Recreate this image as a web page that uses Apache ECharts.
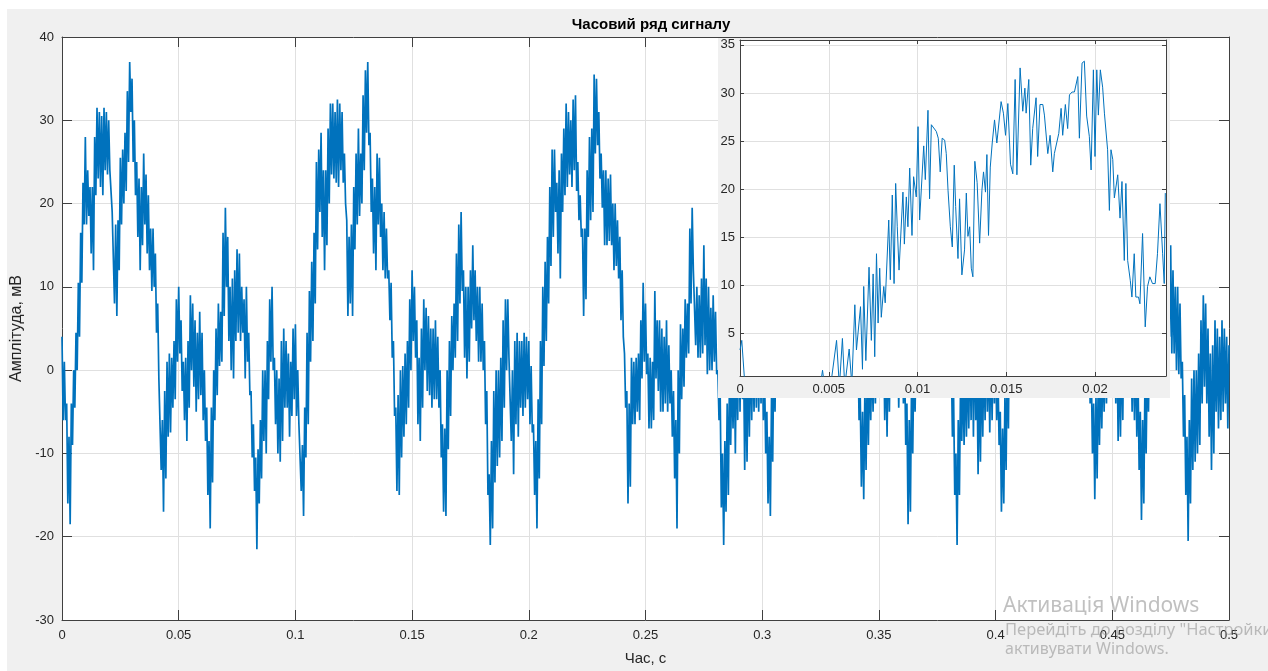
<!DOCTYPE html>
<html>
<head>
<meta charset="utf-8">
<title>Часовий ряд сигналу</title>
<script src="https://cdn.jsdelivr.net/npm/echarts@6/dist/echarts.min.js"></script>
<style>
  html, body { margin: 0; padding: 0; background: #fff; }
  #chart { width: 1268px; height: 671px; }
</style>
</head>
<body>
<div id="chart"></div>
<script>
// * Часовий ряд сигналу + збільшений фрагмент

// ? крок відліків основного графіка, с
const dt = 0.0005
// ? амплітуда, мВ (по два відліки на кожну мілісекунду)
const amp = [
  4,-6, 1,-6, -4,-16, -8,-18.5, -4,-9, 0,-4.5, 4.5,0, 10.5,4, 16.5,10.5, 22.5,17.5,
  28,17.5, 24,18.5, 22,14, 22,12, 28,21, 31.5,23, 31,22, 30.5,21, 31.5,24, 31,23.5,
  30,24, 24,19, 19,8, 17.5,6.5, 18,12, 25.5,17.5, 26.5,20, 28.5,21.5, 33.5,25, 37,31,
  35,25, 30,21, 25,16, 23,12, 22,15, 26,17.5, 23.5,14, 21,12, 17,9.5, 17,10,
  14,4.5, 8,-1, -1,-12, -6,-17, -2.5,-13, 1,-8, 2,-7.5, 1.5,-4.5, 3.5,-3.5, 8.5,1,
  10,2, 6,-2.5, 1,-6, 1.5,-8.5, 3.5,-4.5, 9,0, 8,-2, 6,-5, 4.5,-3.5, 7,-3,
  4.5,-6, 0,-8.5, -4.5,-15, -8.5,-19, -4.5,-13.5, 0,-6, 5,-3, 8,0.5, 7,1, 16.5,6.5,
  19.5,10, 16,3.5, 10,0, 11,-1, 12,3.5, 14.5,4.5, 14,3.5, 10,4.5, 8.5,-1, 10,1,
  4.5,-3, -2.5,-10.5, -6.5,-14.5, -10.5,-21.5, -9.5,-16, -6,-13, 0,-8.5, 0,-10, 3.5,-3.5, 8.5,1,
  10,0, 1.5,-6.5, 0,-10, -1,-11, 3.5,-8.5, 5,-4.5, 3.5,-4.5, 2,-8, 1,-5.5, 5,-3.5,
  5.5,-5.5, 0,-6.5, -6.5,-14.5, -9,-17.5, -4.5,-10.5, 4.5,-6.5, 9.5,1, 13,3.5, 16.5,8, 25,14.5,
  26.5,19, 28.5,16, 24,12, 24,15, 29,20, 32,23.5, 32,23, 31,22.5, 32.5,22, 32,24,
  31,22.5, 26,20, 18,6.5, 16,8, 17.5,6.5, 22,14.5, 26,17.5, 29,18.5, 26,20, 33,24,
  36,28.5, 37,27, 28.5,19, 23,14, 22,12, 26,17.5, 25.5,16, 20,12, 19,11, 17,11,
  12,6, 10.5,1.5, 3.5,-5.5, -4.5,-14.5, -3,-15, 0,-10.5, 0.5,-8, 2,-6.5, 3.5,-4.5, 8.5,0,
  12,3.5, 10,1.5, 6,-6.5, 1.5,-8.5, 5,-4.5, 8.5,0, 7.5,-2.5, 6.5,-3, 5,-4.5, 5,-3.5,
  6,-3.5, 4,-4.5, 0,-10.5, -6.5,-17, -7,-17.5, 0,-9.5, 3.5,-5.5, 6.5,0, 8,1.5, 14,3.5,
  17.5,8, 19,9.5, 12,1.5, 10,-1, 10,1, 12,5, 15,6, 12,3.5, 10,1, 10,1,
  8,0, 3.5,-6.5, -2.5,-15, -12.5,-21, -8.5,-19, -2.5,-13.5, 0,-11.5, 0,-10.5, 1.5,-8.5, 6,-4.5,
  8.5,0, 8.5,1.5, 1.5,-8.5, 0,-12.5, 3.5,-6.5, 4.5,-8, 3.5,-4.5, 3.5,-5.5, 4.5,-4.5, 4,-3.5,
  3.5,-6.5, 0.5,-7.5, -6.5,-15, -8.5,-19, -3.5,-13, 3.5,-6.5, 10,0.5, 13,3.5, 16,8, 22,12.5,
  26.5,16, 26.5,19, 22.5,14, 24,11, 26,19, 29,21, 32,22, 31,23.5, 30,22, 32.5,24,
  33,21.5, 25,18, 21,16, 17,6.5, 17,8.5, 24,16, 28,18, 29,19, 35.5,26, 35,27,
  31,23, 26,19.5, 24,15, 24,15, 23,15.5, 23.5,15, 20,12, 20,12.5, 18,11, 16,6,
  12,4, 2,-4.5, -2.5,-16, -4,-14, 1.5,-6.5, 1,-6.5, 1.5,-5, 2,-6, 6,-1, 10.5,1,
  8,-0.5, 2,-7, 1.5,-7, 1,-6, 9.5,-1, 6,-2.5, 6,-5, 5,-5, 4,-4, 6,-5,
  3,-4, 0,-8, -2.5,-13, -6,-19, 0,-10, 5.5,-3.5, 5,-2, 8.5,1.5, 8,2, 17,8,
  19.5,12, 12,3, 10,1.5, 9,1.5, 11,2, 15,3, 11,-0.5, 10,0, 7.5,0, 9,1,
  7,-0.5, 0,-6, -3,-16.5, -10,-21, -8.5,-17, -4,-15, 0,-9, 1,-7, 2,-10, 4,-6,
  7,-5, 8,-3.5, 2,-12, 0,-11, 3,-8, 4,-6, 3,-5, 4,-4.5, 4,-5, 3,-4,
  4,-6, 0,-10, -5,-16, -8,-17.5, -3,-11, 3,-5, 9,1, 13,3, 17,7, 23,13,
  27,18, 27,17, 24,13, 23,14, 28,19, 31,22, 32,23, 30,22, 32,23, 31,24,
  30,22, 26,19, 18,8, 16,7, 17,8, 22,14, 26,17, 28,19, 27,20, 33,24,
  35,27, 34,25, 28,19, 23,14, 22,13, 25,17, 24,15, 20,12, 19,11, 16,9,
  11,0, 4,-6, -3,-14, -5,-15.5, -2,-12, 0,-9, 1,-6, 2,-5, 3,-4, 7,0,
  11,3, 10,1, 5,-6, 2,-8, 4,-5, 8,-1, 7,-2.5, 6,-3, 5,-4.5, 5,-3,
  5,-4, 2,-9, -4,-18.5, -6,-17, -1,-10, 2,-5, 4,-2, 7,0, 8,1.5, 14,4,
  17,8, 18,9, 12,2, 10,0, 10,1, 12,5, 14,6, 12,4, 10,1, 9,0,
  6,-2.5, 2,-8, -3,-15, -10,-21, -6,-15, -1,-8.5, 0,-9, 1,-8, 2,-7, 4,-6,
  6,-8, 5,-6, 1,-12.5, 0,-11, 2,-8, 3,-6, 4,-5, 3,-7.5, 3,-6, 4,-4,
  3,-6, 0,-9, -5,-17, -7,-16, -3,-12, 2,-7, 9,0, 13,3, 17,8, 24,14,
  27,18, 28,16, 24,13, 24,15, 28,20, 31,22, 32,23, 31,22, 32,22, 31,24,
  30,22, 25,19, 18,7, 16,8, 17,7, 22,14, 26,17, 28,18, 26,20, 32,24,
  35,27, 35,26, 28,19, 23,14, 22,12, 25,17, 25,16, 20,10, 18,8, 12,0,
  6,-4, 0,-10, -4,-15.5, -3,-13, 0,-9, 1,-7, 2,-5, 3,-4, 4,-3, 8,0,
  11,2, 9,-4, 4,-8.5, 2,-8, 4,-6, 8,-1, 7,-2, 6,-3, 4,-5, 4,-6,
  3,-8, 0,-12, -5,-18, -6,-16, -1,-10, 2,-5, 5,-2, 7,0, 8,1, 12,3,
  15,6, 16,7, 13,3, 12,2, 14,4, 15,2, 12,2, 10,0, 10,-0.5, 8,-1,
  1,-8, -3,-15, -8,-20.5, -6,-16, -1,-12, 0,-11, 0,-10, 2,-9, 6,-4, 9,-2,
  8,-4, 5,-8, 2,-12, 3,-10, 6,-5, 5,-7, 4,-6, 6,-5, 5,-4, 4,-7,
  3
]

// ? вставка: час, мс
const insetMs = [
  0, 0.1, 0.2, 0.3, 0.6, 1.0, 1.5, 2.0, 2.5, 3.0, 3.5, 4.0, 4.4, 4.65, 4.8, 5.1,
  5.44, 5.6, 5.77, 5.9, 6.15, 6.3, 6.47, 6.56, 6.79, 6.9, 6.97, 7.09, 7.27, 7.4,
  7.5, 7.59, 7.69, 7.78, 7.87, 7.96, 8.1, 8.18, 8.38, 8.47, 8.58, 8.68, 8.77, 8.86,
  8.96, 9.07, 9.18, 9.26, 9.37, 9.46, 9.56, 9.69, 9.78, 9.93, 10.03, 10.12, 10.2,
  10.35, 10.44, 10.59, 10.68, 10.78, 10.87, 11.06, 11.17, 11.28, 11.39, 11.53, 11.62,
  11.72, 11.85, 11.96, 12.07, 12.15, 12.28, 12.37, 12.5, 12.65, 12.75, 12.84, 12.94,
  13.03, 13.12, 13.23, 13.36, 13.5, 13.63, 13.72, 13.83, 13.91, 14.0, 14.1, 14.21,
  14.34, 14.47, 14.58, 14.71, 14.84, 14.96, 15.09, 15.24, 15.37, 15.5, 15.6, 15.78,
  15.93, 16.05, 16.12, 16.27, 16.38, 16.49, 16.68, 16.77, 16.9, 17.06, 17.15, 17.34,
  17.47, 17.62, 17.71, 17.8, 17.96, 18.09, 18.18, 18.33, 18.46, 18.56, 18.71, 18.84,
  19.03, 19.12, 19.27, 19.4, 19.53, 19.68, 19.78, 19.91, 20.0, 20.1, 20.19, 20.3,
  20.43, 20.53, 20.62, 20.71, 20.81, 20.9, 21.0, 21.09, 21.18, 21.28, 21.41, 21.52,
  21.65, 21.74, 21.84, 21.99, 22.08, 22.21, 22.3, 22.45, 22.53, 22.68, 22.83, 22.96,
  23.09, 23.24, 23.39, 23.52, 23.66, 23.81, 23.9, 23.96
]
// ? вставка: амплітуда, мВ
const insetAmp = [
  3.3, 4.3, 4.5, -1, -5, -9, -12, -15, -17, -14, -9, -6, -2, 1.2, -1, -0.5,
  4.3, -0.5, 4.5, -0.5, 3.4, -0.3, 8, 3.3, 7.8, 1.3, 9.9, 2.2, 11.9, 4.3,
  11.2, 2.6, 13.3, 6.1, 11.8, 6.7, 9.9, 8.2, 16.8, 10.6, 19.4, 10.2, 20.6, 16.1,
  11.6, 11.6, 19.7, 14.3, 19.2, 16.1, 22.2, 15.2, 21.3, 19.2, 26.5, 16.8, 16.8,
  24.5, 21.0, 28.2, 19.0, 26.7, 26.8, 26.0, 25.3, 21.8, 25.3, 25.1, 23.7,
  19.9, 16.1, 14.0, 22.5, 18.2, 12.8, 19.0, 11.1, 13.7, 19.6, 15.1, 16.1,
  11.8, 10.9, 22.9, 20.7, 14.4, 19.9, 21.8, 19.7, 23.6, 15.2, 22.3, 24.8,
  27.2, 24.8, 24.6, 29.1, 27.9, 25.6, 28.9, 22.6, 21.6, 31.4, 21.5, 32.6,
  28.1, 30.5, 27.9, 31.4, 22.5, 26.3, 29.5, 23.4, 28.8, 28.8, 27.7, 23.7,
  25.6, 21.8, 23.7, 23.7, 25.8, 28.4, 25.6, 28.8, 26.3, 29.8, 30.1, 30.1,
  31.7, 25.3, 33.1, 33.3, 27.6, 25.5, 22.0, 32.4, 23.4, 32.4, 27.7, 32.4,
  30.6, 27.9, 28.1, 24.1, 17.8, 24.1, 23.1, 19.1, 18.9, 21.5, 17.0, 20.8,
  12.6, 20.6, 12.6, 10.5, 8.8, 13.3, 8.8, 8.8, 8.1, 15.4, 5.7, 9.9,
  10.9, 10.2, 10.2, 13.3, 18.5, 13.3, 10.2, 19.6
]

const fontFamily = "'Liberation Sans', Arial, sans-serif"
const axisColor = '#404040'
const labelColor = '#262626'
const gridColor = '#e0e0e0'
const lineColor = '#0072bd'

const mainData = amp.map((v, i) => [i * dt, v])
const insetData = insetMs.map((t, i) => [t / 1000, insetAmp[i]])

// ? однакові налаштування осей (рамка як у MATLAB)
function axisBase (gridIndex, position, tickLen, z, withLabels) {
  return {
    type: 'value',
    gridIndex: gridIndex,
    position: position,
    z: z,
    axisLine: { show: true, onZero: false, lineStyle: { color: axisColor, width: 1 } },
    axisTick: { show: true, inside: true, length: tickLen, lineStyle: { color: axisColor } },
    axisLabel: { show: withLabels, color: labelColor, fontSize: 13, fontFamily: fontFamily },
    splitLine: { show: withLabels, lineStyle: { color: gridColor, width: 1 } }
  }
}

const chart = echarts.init(document.getElementById('chart'))

const option = {
  animation: false,
  backgroundColor: '#f0f0f0',
  title: {
    text: 'Часовий ряд сигналу',
    left: 646,
    top: 12,
    textAlign: 'center',
    textStyle: { fontFamily: fontFamily, fontSize: 15, fontWeight: 'bold', color: '#000' }
  },
  grid: [
    { left: 62, top: 37, right: 39, bottom: 49, show: true, backgroundColor: '#fff', borderWidth: 0 },
    { left: 740, top: 40, width: 426, height: 336, show: false }
  ],
  xAxis: [
    Object.assign(axisBase(0, 'bottom', 10, 0, true), {
      min: 0, max: 0.5, interval: 0.05,
      name: 'Час, с', nameLocation: 'middle', nameGap: 31,
      nameTextStyle: { fontFamily: fontFamily, fontSize: 15, color: labelColor }
    }),
    Object.assign(axisBase(0, 'top', 10, 0, false), { min: 0, max: 0.5, interval: 0.05 }),
    Object.assign(axisBase(1, 'bottom', 4, 52, true), { min: 0, max: 0.024, interval: 0.005 }),
    Object.assign(axisBase(1, 'top', 4, 52, false), { min: 0, max: 0.024, interval: 0.005 })
  ],
  yAxis: [
    Object.assign(axisBase(0, 'left', 10, 0, true), {
      min: -30, max: 40, interval: 10,
      name: 'Амплітуда, мВ', nameLocation: 'middle', nameGap: 34,
      nameTextStyle: { fontFamily: fontFamily, fontSize: 16, color: labelColor }
    }),
    Object.assign(axisBase(0, 'right', 10, 0, false), { min: -30, max: 40, interval: 10 }),
    Object.assign(axisBase(1, 'left', 4, 52, true), { min: 0.6, max: 35.5, splitNumber: 7 }),
    Object.assign(axisBase(1, 'right', 4, 52, false), { min: 0.6, max: 35.5, splitNumber: 7 })
  ],
  series: [
    {
      name: 'сигнал',
      type: 'line',
      xAxisIndex: 0,
      yAxisIndex: 0,
      data: mainData,
      showSymbol: false,
      symbol: 'none',
      clip: true,
      lineStyle: { color: lineColor, width: 1.7 },
      z: 2
    },
    {
      name: 'фрагмент',
      type: 'line',
      xAxisIndex: 2,
      yAxisIndex: 2,
      data: insetData,
      showSymbol: false,
      symbol: 'none',
      clip: true,
      lineStyle: { color: lineColor, width: 1 },
      z: 53
    }
  ],
  graphic: {
    elements: [
      { type: 'rect', z: 1, shape: { x: 0, y: 0, width: 1268, height: 9 }, style: { fill: '#fff' }, silent: true },
      { type: 'rect', z: 1, shape: { x: 0, y: 0, width: 7, height: 671 }, style: { fill: '#fff' }, silent: true },
      // ? підкладка вставки
      { type: 'rect', z: 50, shape: { x: 718, y: 38, width: 452, height: 360 }, style: { fill: '#f0f0f0' }, silent: true },
      { type: 'rect', z: 51, shape: { x: 740, y: 40, width: 426, height: 336 }, style: { fill: '#fff' }, silent: true },
      // ? водяний знак
      { type: 'text', z: 100, x: 1003, y: 596, silent: true,
        style: { text: 'Активація Windows', fill: 'rgba(140,140,140,0.55)', font: '21px "Noto Sans", sans-serif' } },
      { type: 'text', z: 100, x: 1005, y: 622, silent: true,
        style: { text: 'Перейдіть до розділу "Настройки", щоб', fill: 'rgba(140,140,140,0.55)', font: '16.5px "Noto Sans", sans-serif' } },
      { type: 'text', z: 100, x: 1005, y: 641, silent: true,
        style: { text: 'активувати Windows.', fill: 'rgba(140,140,140,0.55)', font: '16px "Noto Sans", sans-serif' } }
    ]
  }
}

// ? вставка: без підписів 0.6 / 35.5 та 0.024
option.yAxis[2].axisLabel.showMinLabel = false
option.yAxis[2].axisLabel.showMaxLabel = false
option.yAxis[2].axisLabel.margin = 5
option.xAxis[2].axisLabel.showMaxLabel = false
option.xAxis[2].axisLabel.margin = 7
option.xAxis[0].axisLabel.margin = 9
option.yAxis[0].axisLabel.margin = 8

chart.setOption(option)
</script>
</body>
</html>
